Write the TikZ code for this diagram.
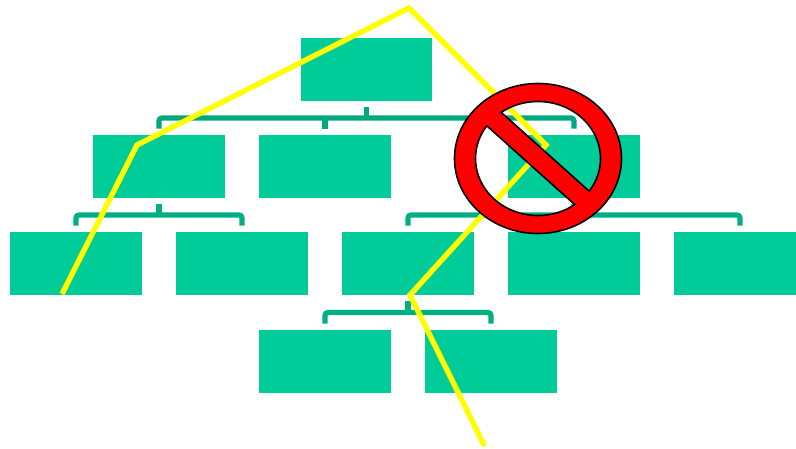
\documentclass[tikz,border=0pt]{standalone}
\usepackage{tikz}
\definecolor{boxgreen}{RGB}{0,204,153}
\definecolor{bargreen}{RGB}{0,176,132}
\definecolor{topgreen}{RGB}{0,168,128}
\definecolor{routeyellow}{RGB}{255,255,0}
\tikzset{
  box/.style={fill=boxgreen,inner sep=0pt,minimum width=1.315cm,minimum height=.625cm},
  branch/.style={draw=bargreen,line width=.052cm},
  route/.style={draw=routeyellow,line width=.054cm},
  nosign/.style={draw=black,fill=red,even odd rule,line width=.016cm}
}

\begin{document}
\begin{tikzpicture}[x=.01cm,y=-.01cm]
\useasboundingbox (0,0) rectangle (796,449);
\node[box] (n0) at (366.5,69.5) {};
\node[box] (n1) at (159,166.5) {};
\node[box] (n2) at (325,166.5) {};
\node[box] (n3) at (574,166.5) {};
\node[box] (n4) at (76,263.5) {};
\node[box] (n5) at (242,263.5) {};
\node[box] (n6) at (408,263.5) {};
\node[box] (n7) at (574,263.5) {};
\node[box] (n8) at (740,263.5) {};
\node[box] (n9) at (325,361.5) {};
\node[box] (n10) at (491,361.5) {};
\coordinate (b0) at (366.5,118);
\coordinate (b1) at (159,215);
\coordinate (b2) at (574,215);
\coordinate (b3) at (408,312.5);
% brackets
\draw[branch,draw=topgreen,shorten <=.06cm] (n0.south) -- (b0);
\draw[branch,draw=topgreen,rounded corners=.03cm,shorten <=.06cm,shorten >=.06cm] (n1.north) |- (b0) -| (n3.north);
\draw[branch,draw=topgreen,shorten <=.06cm] (n2.north) -- (n2.north |- b0);
\draw[branch,shorten <=.06cm] (n1.south) -- (b1);
\draw[branch,rounded corners=.03cm,shorten <=.06cm,shorten >=.06cm] (n4.north) |- (b1) -| (n5.north);
\draw[branch,shorten <=.06cm] (n3.south) -- (b2);
\draw[branch,rounded corners=.03cm,shorten <=.06cm,shorten >=.06cm] (n6.north) |- (b2) -| (n8.north);
\draw[branch,shorten <=.06cm] (n7.north) -- (b2);
\draw[branch,shorten <=.06cm] (n6.south) -- (b3);
\draw[branch,rounded corners=.03cm,shorten <=.06cm,shorten >=.06cm] (n9.north) |- (b3) -| (n10.north);
% yellow route
\coordinate (y0) at (62,294);
\coordinate (y1) at (137,145);
\coordinate (y2) at (409,8);
\coordinate (y3) at (546,145);
\coordinate (y4) at (410,295);
\coordinate (y5) at (484.5,446);
\draw[route] (y0) -- (y1) -- (y2) -- (y3) -- (y4) -- (y5);
% sign on top
\coordinate (s0) at (538,158.5);
\path[nosign] (s0) ellipse [x radius=83.5,y radius=75]
  (s0) ++(-126:62.5 and 57) arc [start angle=-126,end angle=35,x radius=62.5,y radius=57] -- cycle
  (s0) ++(54:62.5 and 57) arc [start angle=54,end angle=215,x radius=62.5,y radius=57] -- cycle;
\end{tikzpicture}
\end{document}
